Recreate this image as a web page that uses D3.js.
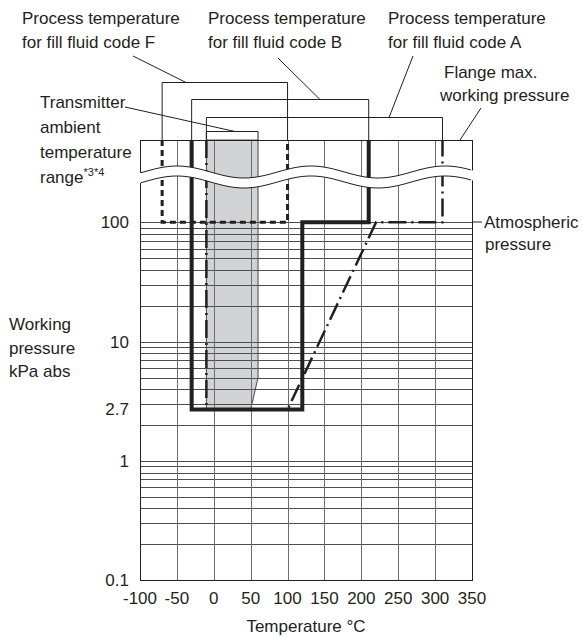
<!DOCTYPE html>
<html>
<head>
<meta charset="utf-8">
<script src="https://cdn.jsdelivr.net/npm/d3@7"></script>
<style>
    body { margin: 0; background: #fff; }
    text { font-family: "Liberation Sans", Arial, sans-serif; font-size: 17px; fill: #231f20; }
</style>
</head>
<body>
<svg id="chart" width="582" height="637"></svg>
<script>
// tick values
var xTicks = [-100, -50, 0, 50, 100, 150, 200, 250, 300, 350];
var yLabels = [100, 10, 2.7, 1, 0.1];
var decades = [0.1, 1, 10];
var minorSteps = [2, 3, 4, 5, 6, 7, 8, 9];

// 'max' = flange max. working pressure (top of the broken part)
var MAX = 'max';
var fluidF = [[-70, MAX], [-70, 100], [100, 100], [100, MAX]];
var fluidB = [[-30, MAX], [-30, 2.7], [120, 2.7], [120, 100], [210, 100], [210, MAX]];
var fluidA = [[-10, MAX], [-10, 2.7], [100, 2.7], [220, 100], [310, 100], [310, MAX]];
var ambient = [[-10, MAX], [60, MAX], [60, 5], [50, 2.7], [-10, 2.7]];

var svg = d3.select('#chart');

var plotLeft = 140, plotRight = 472, plotTop = 140, plotBottom = 580.3;
var x = d3.scaleLinear().domain([-100, 350]).range([plotLeft, plotRight]);
var y = d3.scaleLog().domain([0.1, 100]).range([plotBottom, 222.3]);

function py(v) {
    return v === MAX ? plotTop : y(v);
}

var line = d3.line()
    .x(function (d) { return x(d[0]); })
    .y(function (d) { return py(d[1]); });

// transmitter ambient range (grey)
svg.append('path')
    .attr('d', line(ambient) + 'Z')
    .attr('fill', '#d2d3d5')
    .attr('stroke', '#231f20')
    .attr('stroke-width', 0.8);

// grid
var g = svg.append('g').attr('shape-rendering', 'crispEdges');
var hLines = [];
decades.forEach(function (d) {
    minorSteps.forEach(function (m) { hLines.push(d * m); });
});
hLines.push(1, 10, 100);

g.selectAll('.hl')
    .data(hLines)
    .enter()
    .append('line')
    .attr('x1', plotLeft).attr('x2', plotRight)
    .attr('y1', function (d) { return Math.round(y(d)) + 0.5; })
    .attr('y2', function (d) { return Math.round(y(d)) + 0.5; })
    .attr('stroke', '#4d4d4f')
    .attr('stroke-width', 1);

g.selectAll('.vl')
    .data(xTicks)
    .enter()
    .append('line')
    .attr('x1', function (d) { return Math.round(x(d)) + 0.5; })
    .attr('x2', function (d) { return Math.round(x(d)) + 0.5; })
    .attr('y1', plotTop).attr('y2', plotBottom)
    .attr('stroke', function (d, i) { return (i === 0 || i === xTicks.length - 1) ? '#231f20' : '#6d6e71'; })
    .attr('stroke-width', 1);

g.append('line')
    .attr('x1', plotLeft).attr('x2', plotRight + 1)
    .attr('y1', plotTop + 0.5).attr('y2', plotTop + 0.5)
    .attr('stroke', '#231f20');
g.append('line')
    .attr('x1', plotLeft).attr('x2', plotRight + 1)
    .attr('y1', Math.round(plotBottom) + 0.5).attr('y2', Math.round(plotBottom) + 0.5)
    .attr('stroke', '#231f20');

// limit lines
svg.append('path')
    .attr('d', line(fluidF))
    .attr('fill', 'none')
    .attr('stroke', '#231f20')
    .attr('stroke-width', 3)
    .attr('stroke-dasharray', '6,4');

svg.append('path')
    .attr('d', line(fluidA))
    .attr('fill', 'none')
    .attr('stroke', '#231f20')
    .attr('stroke-width', 2.5)
    .attr('stroke-dasharray', '18,5,2,5');

svg.append('path')
    .attr('d', line(fluidB))
    .attr('fill', 'none')
    .attr('stroke', '#231f20')
    .attr('stroke-width', 4)
    .attr('stroke-linejoin', 'miter');

// broken axis band
var waveX = d3.range(plotLeft - 1, plotRight + 2, 2);
function waveY(px) {
    return 172 - 6 * Math.cos(2 * Math.PI * (px - 177) / 134);
}
var upper = waveX.map(function (px) { return [px, waveY(px)]; });
var lower = waveX.map(function (px) { return [px, waveY(px) + 10]; });
var raw = d3.line();
svg.append('path')
    .attr('d', raw(upper.concat(lower.slice().reverse())) + 'Z')
    .attr('fill', '#fff');
[upper, lower].forEach(function (pts) {
    svg.append('path')
        .attr('d', raw(pts.slice(1, pts.length - 1)))
        .attr('fill', 'none')
        .attr('stroke', '#231f20')
        .attr('stroke-width', 1);
});

// brackets from the labels
var brackets = [
    { from: -70, to: 100, y: 82.5 },
    { from: -30, to: 210, y: 99.5 },
    { from: -10, to: 310, y: 117.5 },
    { from: -10, to: 60, y: 131.5 }
];
brackets.forEach(function (b) {
    svg.append('path')
        .attr('d', `M${x(b.from)},${plotTop} V${b.y} H${x(b.to)} V${plotTop}`)
        .attr('fill', 'none')
        .attr('stroke', '#231f20')
        .attr('stroke-width', 1);
});

var leaders = [
    [133, 56, 186, 82.5],
    [278, 58, 320, 99.5],
    [413, 56, 389, 117.5],
    [125, 107, 235, 131.5],
    [481, 108, 460, 140],
    [472, 222, 482, 222]
];
svg.selectAll('.leader')
    .data(leaders)
    .enter()
    .append('line')
    .attr('x1', function (d) { return d[0]; })
    .attr('y1', function (d) { return d[1]; })
    .attr('x2', function (d) { return d[2]; })
    .attr('y2', function (d) { return d[3]; })
    .attr('stroke', '#231f20')
    .attr('stroke-width', 1);

// axis labels
svg.selectAll('.xt')
    .data(xTicks)
    .enter()
    .append('text')
    .attr('x', function (d) { return x(d); })
    .attr('y', 604)
    .attr('text-anchor', 'middle')
    .text(function (d) { return d; });

svg.selectAll('.yt')
    .data(yLabels)
    .enter()
    .append('text')
    .attr('x', 129)
    .attr('y', function (d) { return y(d); })
    .attr('dy', '0.35em')
    .attr('text-anchor', 'end')
    .text(function (d) { return d; });

svg.append('text')
    .attr('x', (plotLeft + plotRight) / 2)
    .attr('y', 632)
    .attr('text-anchor', 'middle')
    .text('Temperature °C');

function block(lines, px, py0, step) {
    var t = svg.append('text').attr('x', px).attr('y', py0);
    lines.forEach(function (s, i) {
        t.append('tspan').attr('x', px).attr('y', py0 + i * step).text(s);
    });
    return t;
}

block(['Process temperature', 'for fill fluid code F'], 22, 24, 24);
block(['Process temperature', 'for fill fluid code B'], 208, 24, 24);
block(['Process temperature', 'for fill fluid code A'], 388, 24, 24);
block(['Flange max.'], 444, 78, 23);
block(['working pressure'], 440, 101, 23);
block(['Atmospheric'], 484, 228, 22);
block(['pressure'], 485, 250, 22);
block(['Working', 'pressure', 'kPa abs'], 9, 330, 23.5);

var amb = block(['Transmitter', 'ambient', 'temperature', 'range'], 40, 108, 25);
amb.append('tspan')
    .attr('dy', -7)
    .style('font-size', '11px')
    .text('*3*4');
</script>
</body>
</html>
